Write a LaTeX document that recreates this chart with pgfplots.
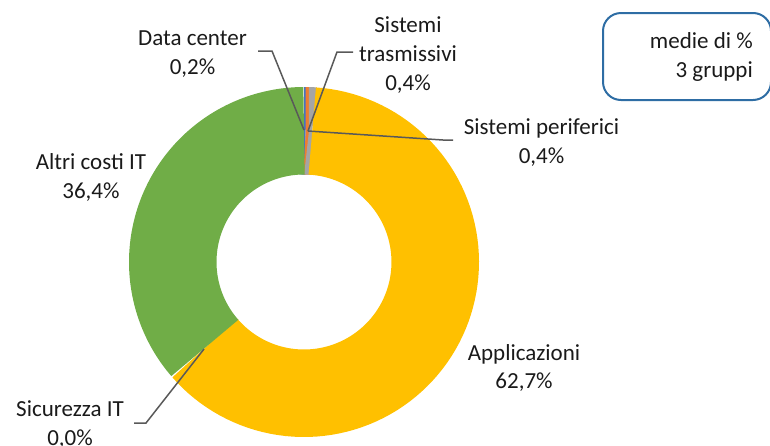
\documentclass[border=0pt]{standalone}
\usepackage{fontspec}
\setmainfont{Carlito}
\usepackage{pgfplots}
\pgfplotsset{compat=1.18}
\usepgfplotslibrary{polar}
\usepackage{pgfplotstable}

\definecolor{c0}{HTML}{4472C4}
\definecolor{c1}{HTML}{ED7D31}
\definecolor{c2}{HTML}{A5A5A5}
\definecolor{c3}{HTML}{FFC000}
\definecolor{c4}{HTML}{5B9BD5}
\definecolor{c5}{HTML}{70AD47}
\definecolor{leader}{HTML}{595959}
\definecolor{boxblue}{HTML}{2E6DA4}
\definecolor{txt}{HTML}{1A1A1A}

\pgfplotstableread[col sep=comma]{
label,value
Data center,0.2
Sistemi trasmissivi,0.4
Sistemi periferici,0.4
Applicazioni,62.7
Sicurezza IT,0.0
Altri costi IT,36.4
}\shares
\pgfplotstablecreatecol[create col/expr accum={\pgfmathaccuma + \thisrow{value}}{0}]{cum}\shares
\pgfplotstablegetelem{5}{cum}\of\shares
\let\total\pgfplotsretval

\newcommand\lbl{\fontsize{23}{28}\selectfont}

\begin{document}
\begin{tikzpicture}
\path[use as bounding box] (0pt,0pt) rectangle (770pt,-445pt);
\begin{polaraxis}[
  at={(304pt,-262pt)}, anchor=center,
  scale only axis, width=350pt, height=350pt,
  xmin=0, xmax=360, ymin=0, ymax=175,
  enlargelimits=false, hide axis, clip=false,
]
\pgfplotsinvokeforeach{0,...,5}{
  \pgfplotstablegetelem{#1}{value}\of\shares \let\valv\pgfplotsretval
  \pgfplotstablegetelem{#1}{cum}\of\shares \let\cumv\pgfplotsretval
  \pgfmathsetmacro\fracEnd{\cumv/\total}
  \pgfmathsetmacro\fracStart{(\cumv-\valv)/\total}
  \pgfmathsetmacro\angEnd{90-\fracEnd*360}
  \pgfmathsetmacro\angStart{90-\fracStart*360}
  \ifdim\valv pt>0pt
    \addplot[draw=c#1, line width=87.5pt, domain=\angEnd:\angStart, samples=90, no markers] {131.25};
  \fi
}
\end{polaraxis}

% leader lines
\draw[leader, line width=1.5pt] (258pt,-51pt) -- (272pt,-51pt) -- (304pt,-130pt);
\draw[leader, line width=1.5pt] (353pt,-52pt) -- (337pt,-52pt) -- (308pt,-131pt);
\draw[leader, line width=1.5pt] (308pt,-131pt) -- (443pt,-140pt) -- (453pt,-140pt);
\draw[leader, line width=1.5pt] (204pt,-349pt) -- (146pt,-423pt) -- (134pt,-423pt);

% labels
\begin{scope}[every node/.style={anchor=base, font=\lbl, text=txt, inner sep=0pt}]
\node at (192.5pt,-45pt) {Data center};
\node at (192.5pt,-74pt) {0,2\%};
\node at (408pt,-32pt) {Sistemi};
\node at (408pt,-61.5pt) {trasmissivi};
\node at (408pt,-90pt) {0,4\%};
\node at (541.5pt,-134.5pt) {Sistemi periferici};
\node at (541.5pt,-163pt) {0,4\%};
\node at (91pt,-169pt) {Altri costi IT};
\node at (91pt,-198pt) {36,4\%};
\node at (524pt,-360pt) {Applicazioni};
\node at (524pt,-388.5pt) {62,7\%};
\node at (70pt,-416.5pt) {Sicurezza IT};
\node at (70pt,-445.5pt) {0,0\%};
\end{scope}

% note box
\draw[boxblue, line width=2pt, rounded corners=18pt] (603pt,-13pt) rectangle (771pt,-100pt);
\node[anchor=base east, font=\lbl, text=txt, inner sep=0pt] at (753pt,-48pt) {medie di \%};
\node[anchor=base east, font=\lbl, text=txt, inner sep=0pt] at (753pt,-77.5pt) {3 gruppi};
\end{tikzpicture}
\end{document}
